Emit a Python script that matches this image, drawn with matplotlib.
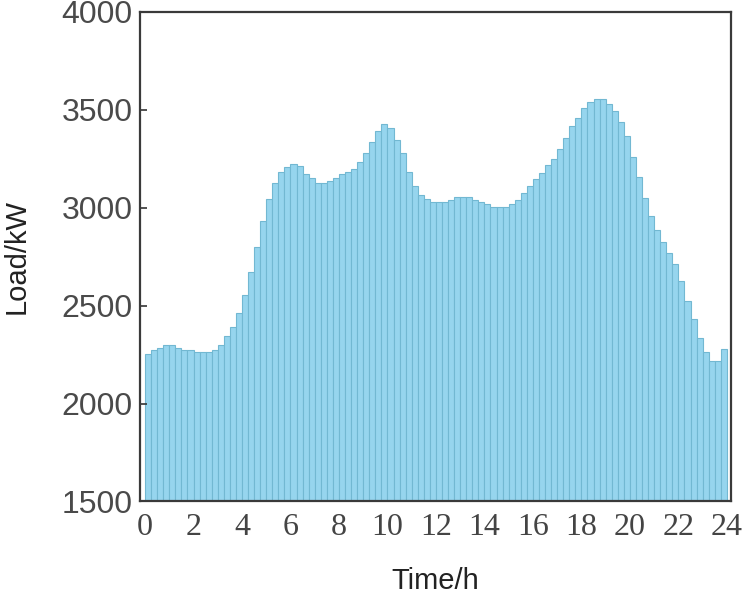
import numpy as np
import matplotlib
matplotlib.use("Agg")
import matplotlib.pyplot as plt

# 15-min load profile, 96 values (kW)
load_kw = [
    2254, 2274, 2286, 2300, 2300, 2286, 2274, 2274, 2262, 2262, 2262, 2274,
    2298, 2345, 2392, 2463, 2555, 2672, 2799, 2930, 3046, 3128, 3185, 3209,
    3221, 3211, 3173, 3150, 3126, 3126, 3138, 3150, 3173, 3185, 3197, 3233,
    3281, 3337, 3394, 3430, 3406, 3347, 3279, 3184, 3112, 3066, 3044, 3031,
    3031, 3031, 3042, 3054, 3054, 3054, 3042, 3031, 3019, 3005, 3005, 3005,
    3019, 3041, 3075, 3111, 3146, 3180, 3216, 3250, 3298, 3355, 3415, 3459,
    3508, 3542, 3553, 3553, 3531, 3495, 3438, 3366, 3260, 3157, 3051, 2958,
    2886, 2827, 2769, 2711, 2628, 2524, 2430, 2337, 2264, 2218, 2218, 2277,
]
step_h = 0.25
x_ticks = list(range(0, 25, 2))
y_ticks = [1500, 2000, 2500, 3000, 3500, 4000]

fig = plt.figure(figsize=(7.51, 5.97), dpi=100)
ax = fig.add_axes([0.186, 0.160, 0.788, 0.820])

t = np.arange(len(load_kw)) * step_h
ax.bar(t, load_kw, width=step_h, align="edge", color="#96D5EE",
       edgecolor="#72B8D2", linewidth=0.8)

ax.set_xlim(-0.22, 24.19)
ax.set_ylim(1500, 4000)
ax.set_xticks(x_ticks)
ax.set_yticks(y_ticks)
ax.set_xticklabels([str(v) for v in x_ticks], family="Liberation Serif",
                   fontsize=23, color="#444444")
ax.set_yticklabels([str(v) for v in y_ticks], family="Liberation Sans",
                   fontsize=23, color="#4a4a4a")
ax.tick_params(axis="y", direction="in", length=5, width=1.2, color="#333333", pad=5)
ax.tick_params(axis="x", length=0, pad=8)

for s in ax.spines.values():
    s.set_color("#3a3a3a")
    s.set_linewidth(1.6)

ax.set_xlabel("Time/h", family="Liberation Sans", fontsize=21, color="#222222", labelpad=18)
ax.set_ylabel("Load/kW", family="Liberation Sans", fontsize=21, color="#222222", labelpad=22)

fig.savefig("out.png", dpi=100)
